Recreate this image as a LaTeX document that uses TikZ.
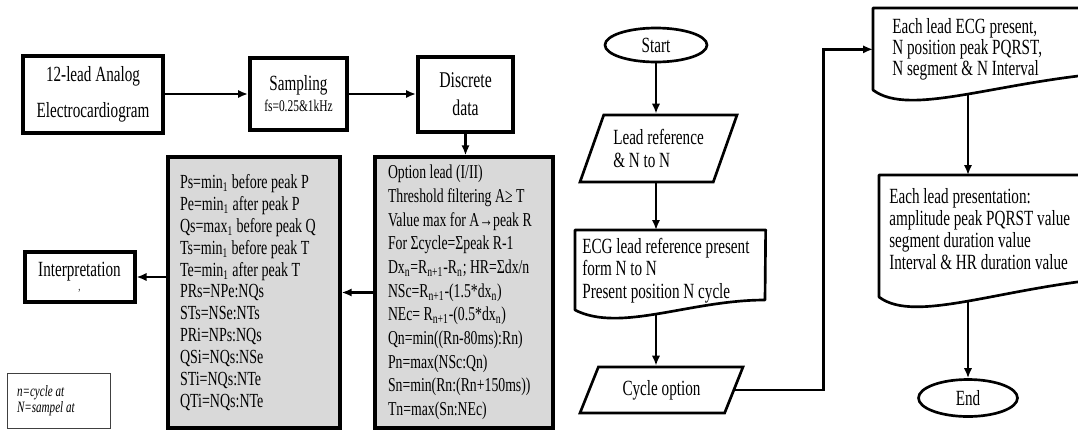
\documentclass[tikz,border=0pt]{standalone}
\usepackage{fontspec}
\setmainfont{Liberation Serif}[FakeStretch=0.7]
\usetikzlibrary{arrows.meta}
\usetikzlibrary{shapes.geometric}
\definecolor{boxgray}{RGB}{217,217,217}

\begin{document}
\begin{tikzpicture}[x=0.6pt, y=-0.6pt,
    >={Latex[length=6pt,width=5pt]},
    flowarrow/.style={->, line width=1.6pt},
    topbox/.style={draw, line width=2.4pt, align=center, inner sep=0pt,
      font=\fontsize{13}{21.6}\selectfont},
    listbox/.style={draw, line width=2pt, fill=boxgray, align=flush left,
      inner ysep=0pt, minimum height=162.6pt},
    term/.style={draw, ellipse, line width=1.6pt, inner sep=0pt,
      font=\fontsize{13}{13.5}\selectfont},
    io/.style={draw, trapezium, trapezium stretches body, line width=1.6pt,
      align=left, inner sep=0pt, font=\fontsize{13}{13.5}\selectfont},
    doctext/.style={anchor=north west, align=flush left, inner ysep=0pt,
      font=\fontsize{13}{13.5}\selectfont},
    docline/.style={line width=1.6pt, line join=round}]
  \useasboundingbox (0,0) rectangle (1078,430);
  \clip (0,0) rectangle (1078,430);

  % acquisition
  \node[topbox, minimum width=84pt, minimum height=46.2pt] (ecg) at (93,94)
    {12-lead Analog\\Electrocardiogram};
  \node[topbox, minimum width=58.2pt, minimum height=43.2pt] (samp) at (298.5,94)
    {Sampling\\[-9pt]{\fontsize{9.8}{10}\selectfont fs=0.25\&1kHz}};
  \node[topbox, minimum width=57pt, minimum height=45pt,
    font=\fontsize{13.5}{16.8}\selectfont] (disc) at (465.5,94) {Discrete\\data};

  % processing boxes
  \node[listbox, text width=91.2pt, inner xsep=7.8pt,
    font=\fontsize{11.8}{14.2}\selectfont] (calc) at (464,292.5)
    {Option lead (I/II)\\
     Threshold filtering A≥ T\\
     Value max for A→peak R\\
     For Σcycle=Σpeak R-1\\
     Dx\textsubscript{n}=R\textsubscript{n+1}-R\textsubscript{n}; HR=Σdx/n\\
     NSc=R\textsubscript{n+1}-(1.5*dx\textsubscript{n})\\
     NEc= R\textsubscript{n+1}-(0.5*dx\textsubscript{n})\\
     Qn=min((Rn-80ms):Rn)\\
     Pn=max(NSc:Qn)\\
     Sn=min(Rn:(Rn+150ms))\\
     Tn=max(Sn:NEc)};
  \node[listbox, text width=88.8pt, inner xsep=7.2pt,
    font=\fontsize{12}{13.1}\selectfont] (rules) at (254,292.5)
    {Ps=min\textsubscript{1} before peak P\\
     Pe=min\textsubscript{1} after peak P\\
     Qs=max\textsubscript{1} before peak Q\\
     Ts=min\textsubscript{1} before peak T\\
     Te=min\textsubscript{1} after peak T\\
     PRs=NPe:NQs\\
     STs=NSe:NTs\\
     PRi=NPs:NQs\\
     QSi=NQs:NSe\\
     STi=NQs:NTe\\
     QTi=NQs:NTe};
  \node[topbox, minimum width=66pt, minimum height=30pt] (interp) at (79.5,277)
    {Interpretation\\[-13pt]{\fontsize{7}{7}\selectfont ,}};
  \node[draw=black!75, line width=0.6pt, minimum width=61.8pt, minimum height=33pt,
    text width=49.8pt, inner xsep=6pt, align=flush left,
    font=\fontsize{9.5}{9.6}\selectfont\itshape] (legend) at (58.5,400.5)
    {n=cycle at\\N=sampel at};

  \draw[flowarrow] (ecg) -- (samp);
  \draw[flowarrow] (samp) -- (disc);
  \draw[flowarrow] (disc.south) -- (disc.south |- calc.north);
  \draw[flowarrow] (calc.west) -- (calc.west -| rules.east);
  \draw[flowarrow] (rules.west |- interp.east) -- (interp.east);

  % flowchart
  \node[term, minimum width=61.2pt, minimum height=20.4pt] (start) at (656,45) {Start};
  \node[io, trapezium left angle=58, trapezium right angle=122,
    minimum width=94.2pt, minimum height=40.2pt] (lead) at (658.5,148.5)
    {Lead reference\\ \& N to N};
  \node[doctext, minimum width=114pt, minimum height=48pt, text width=105.6pt,
    inner xsep=4.2pt] (ecgdoc) at (575,230)
    {ECG lead reference present\\form N to N\\Present position N cycle};
  \node[io, trapezium left angle=47, trapezium right angle=133,
    minimum width=97.8pt, minimum height=27.6pt] (cyc) at (661.5,390) {Cycle option};
  \node[doctext, minimum width=148.2pt, minimum height=49.2pt, text width=125.4pt,
    inner xsep=11.4pt, font=\fontsize{13}{12.6}\selectfont] (peaks) at (873,8)
    {Each lead ECG present,\\N position peak PQRST,\\N segment \& N Interval};
  \node[doctext, minimum width=148.2pt, minimum height=64.2pt, text width=136.2pt,
    inner xsep=6pt, font=\fontsize{13}{13.2}\selectfont] (pres) at (879,175)
    {Each lead presentation:\\amplitude peak PQRST value\\segment duration value\\Interval \& HR duration value};
  \node[term, minimum width=59.4pt, minimum height=22.2pt] (fin) at (968,398) {End};

  \draw[docline] (ecgdoc.north east) -- (ecgdoc.north west) -- ++(0,80)
    .. controls +(45,23) and +(-75,0) .. coordinate[pos=.5] (ecgout) ++(190,-10) -- cycle;
  \draw[docline] (peaks.north east) -- (peaks.north west) -- ++(0,82)
    .. controls +(37,28) and +(-120,8) .. coordinate[pos=.5] (peaksout) ++(247,-18) -- cycle;
  \draw[docline] (pres.north east) -- (pres.north west) -- ++(0,122)
    .. controls +(37,28) and +(-120,8) .. coordinate[pos=.5] (presout) ++(247,-20) -- cycle;

  \draw[flowarrow] (start.south) -- (start.south |- lead.north);
  \draw[flowarrow] (start.south |- lead.south) -- (start.south |- ecgdoc.north);
  \draw[flowarrow] (start.south |- ecgout) -- (start.south |- cyc.north);
  \draw[flowarrow] (cyc.east) -- ++(88,0) |- (peaks.west);
  \draw[flowarrow] (fin.north |- peaksout) -- (fin.north |- pres.north);
  \draw[flowarrow] (fin.north |- presout) -- (fin.north);
\end{tikzpicture}
\end{document}
